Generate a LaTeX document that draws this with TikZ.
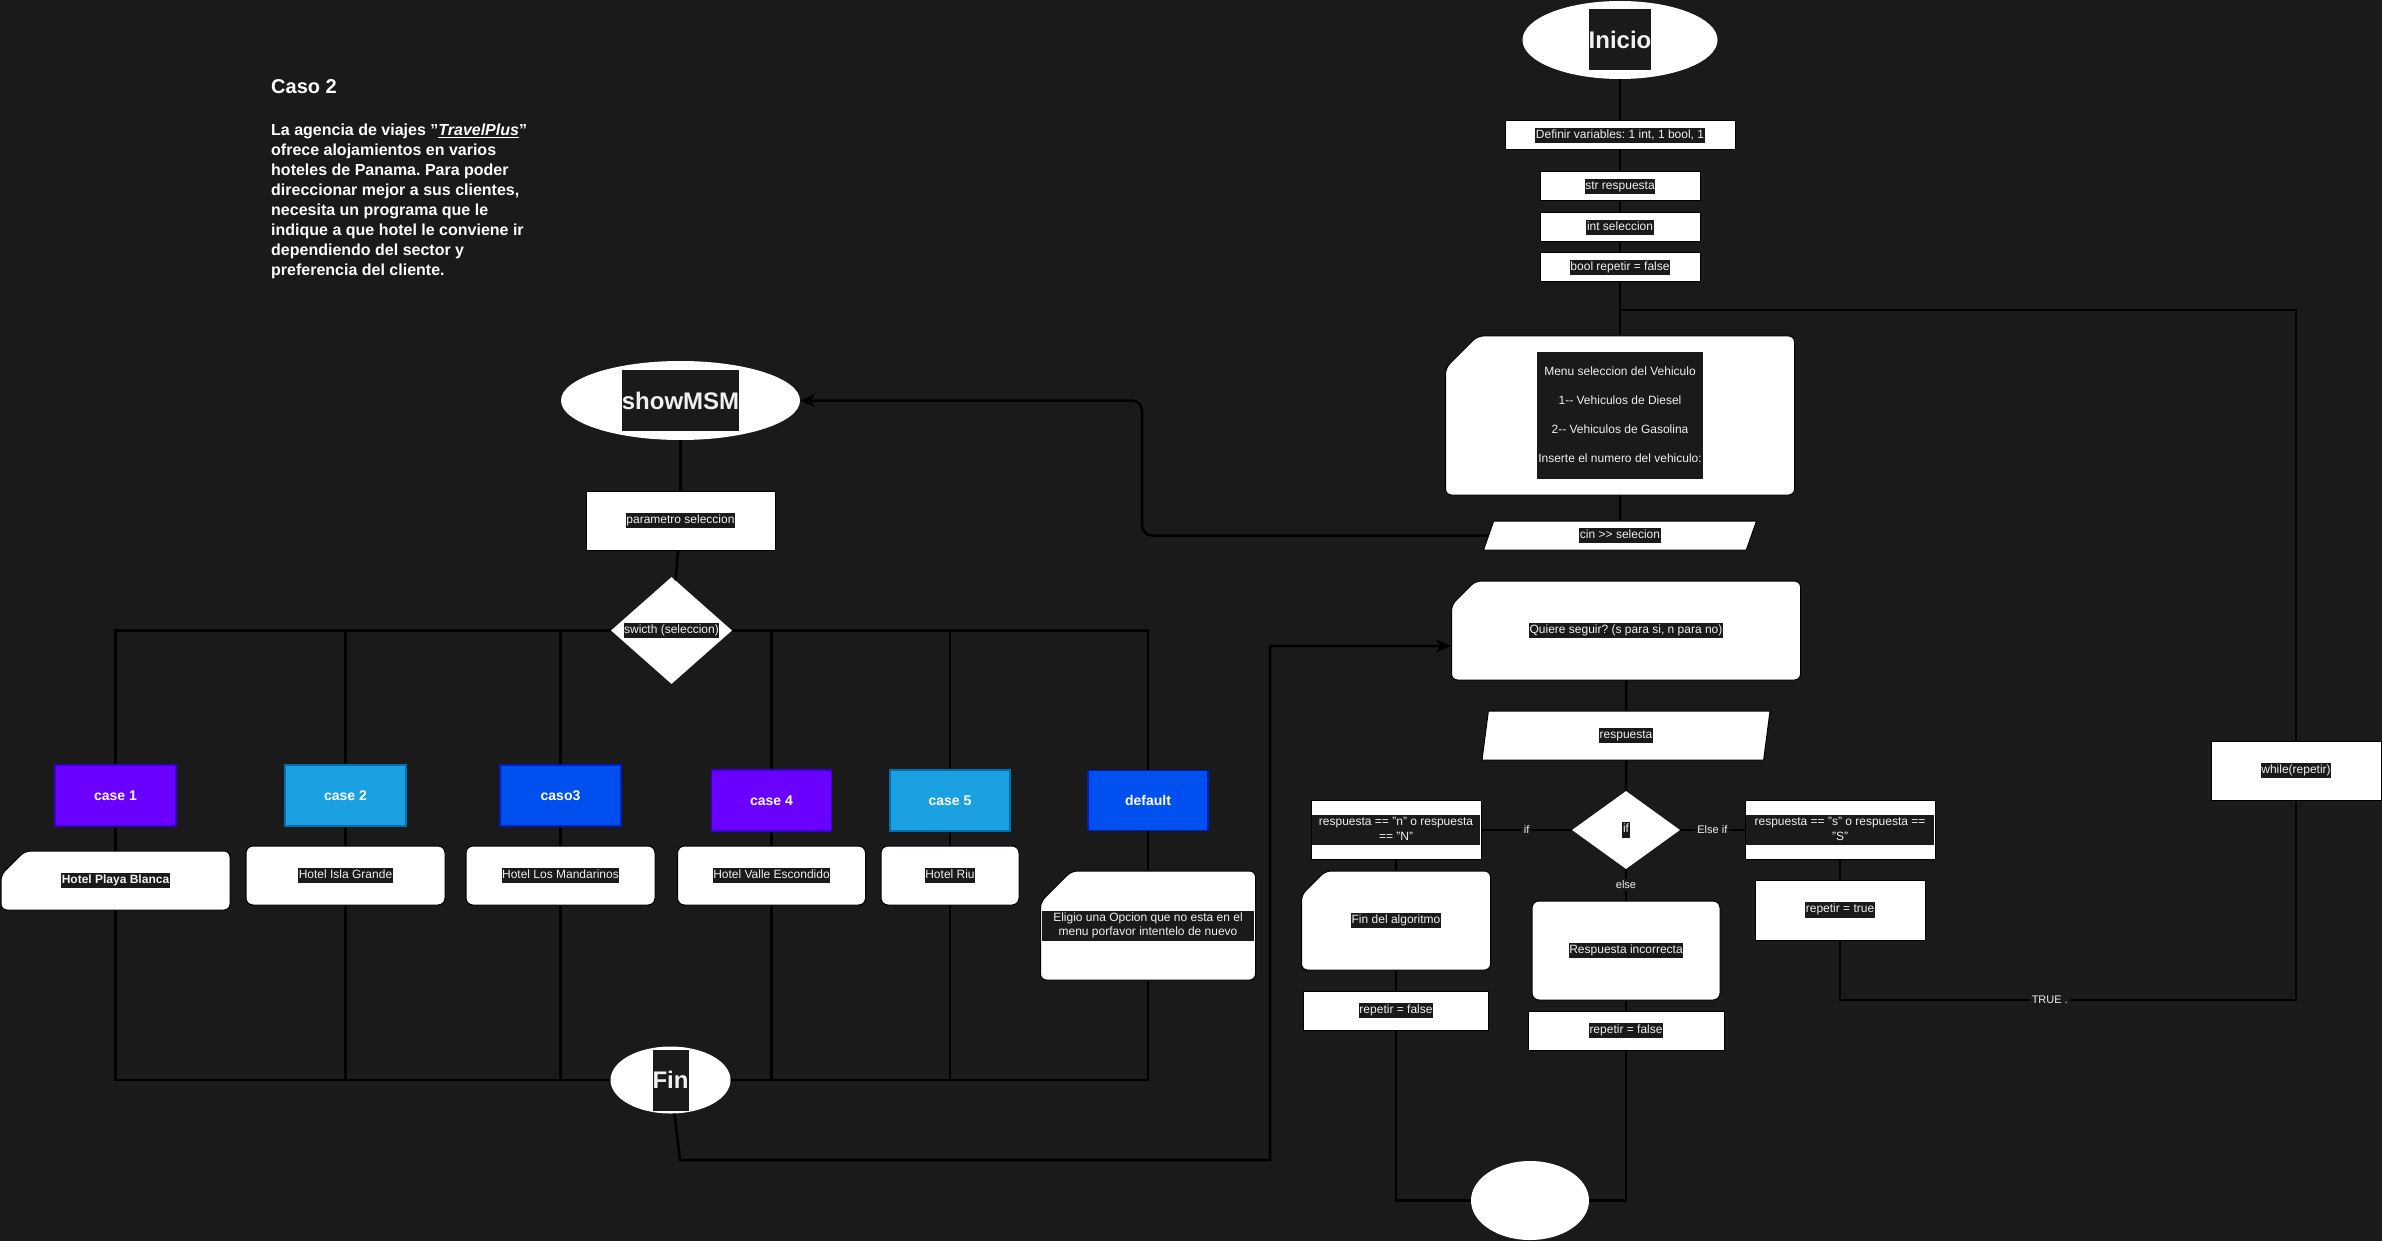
\documentclass[tikz,border=0pt]{standalone}
\usepackage{fontspec}
\setmainfont{Liberation Sans}
\usetikzlibrary{shapes.geometric,shapes.misc,arrows.meta,positioning}
\definecolor{bgc}{HTML}{1A1A1A}
\definecolor{txtc}{HTML}{F0F0F0}
\definecolor{purplefill}{HTML}{6A00FF}
\definecolor{purpleline}{HTML}{3700CC}
\definecolor{cyanfill}{HTML}{1BA1E2}
\definecolor{cyanline}{HTML}{006EAF}
\definecolor{bluefill}{HTML}{0050EF}
\definecolor{blueline}{HTML}{001DBC}
\newcommand{\hl}[1]{{\setlength{\fboxsep}{0.6pt}\colorbox{bgc}{\strut #1}}}
\newcommand{\hlpar}[2]{{\setlength{\fboxsep}{0.6pt}\colorbox{bgc}{\parbox{#1}{\centering\strut #2\strut}}}}
\newcommand{\bigtag}[1]{{\setlength{\fboxsep}{0pt}\colorbox{bgc}{\rule[-22pt]{0pt}{61pt}#1}}}
\newcommand{\dd}{-\kern0pt-}
\frenchspacing

\begin{document}
\begin{tikzpicture}[x=1pt,y=-1pt,
    every node/.style={font=\fontsize{12}{14.4}\selectfont,text=txtc},
    wh/.style 2 args={minimum width=#1pt,minimum height=#2pt},
    wire/.style={draw=black,line width=2.5pt},
    tip/.style={-{Stealth[length=15pt,width=13pt]}},
    proc/.style={rectangle,fill=white,draw=black,line width=1pt,inner sep=0pt},
    rbox/.style={rectangle,rounded corners=7pt,fill=white,draw=black,line width=1pt,inner sep=0pt},
    card/.style={chamfered rectangle,chamfered rectangle corners=north west,
      chamfered rectangle xsep=16pt,chamfered rectangle ysep=16pt,
      rounded corners=6pt,fill=white,draw=black,line width=1pt,inner sep=0pt},
    term/.style={ellipse,fill=white,inner sep=0pt,text height=17pt,text depth=0pt,
      font=\fontsize{24}{28}\selectfont\bfseries},
    io/.style 2 args={trapezium,trapezium left angle=#1,trapezium right angle=#2,
      trapezium stretches body,fill=white,draw=black,line width=1pt,inner sep=0pt},
    decision/.style={diamond,fill=white,inner sep=0pt},
    casebox/.style 2 args={rectangle,fill=#1,draw=#2,line width=1.5pt,inner sep=0pt,
      text=white,font=\fontsize{14}{17}\selectfont\bfseries},
    lbl/.style={fill=bgc,inner sep=2pt,font=\fontsize{11}{13}\selectfont}]

  \fill[bgc] (0,0) rectangle (2382,1241);
  \useasboundingbox (0,0) rectangle (2382,1241);

  \node[anchor=base west,inner sep=0pt,text=white,font=\fontsize{20}{24}\selectfont\bfseries]
    (title) at (271,94) {Caso 2};
  \node[anchor=north west,inner sep=0pt,align=left,text=white,font=\fontsize{16}{20}\selectfont\bfseries]
    (desc) at (271,123.5) {La agencia de viajes "\underline{\textit{TravelPlus}}"\\
    ofrece alojamientos en varios\\ hoteles de Panama. Para poder\\
    direccionar mejor a sus clientes,\\ necesita un programa que le\\
    indique a que hotel le conviene ir\\ dependiendo del sector y\\ preferencia del cliente.};

  \node[term,wh={195}{78}] (inicio) at (1620,40) {\bigtag{Inicio}};
  \node[proc,wh={230}{29}] (defvars) at (1620,135.5) {\hl{Definir variables: 1 int, 1 bool, 1}};
  \node[proc,wh={160}{29},below=21pt of defvars] (strresp) {\hl{str respuesta}};
  \node[proc,wh={160}{29},below=11pt of strresp] (intsel) {\hl{int seleccion}};
  \node[proc,wh={160}{29},below=10pt of intsel] (boolrep) {\hl{bool repetir = false}};
  \node[card,wh={349}{149}] (menu) at (1620,415.5)
    {{\setlength{\fboxsep}{0pt}\colorbox{bgc}{\parbox{166pt}{\centering\baselineskip=28.7pt
    \rule{0pt}{24pt}Menu seleccion del Vehiculo\\ 1\dd{} Vehiculos de Diesel\\
    2\dd{} Vehiculos de Gasolina\\ Inserte el numero del vehiculo:\rule[-17pt]{0pt}{0pt}}}}};
  \node[io={56.8}{123.2},wh={273}{29}] (cin) at (1620,535.5) {\hl{cin >\kern0pt> selecion}};
  \node[card,wh={349}{99}] (quiere) at (1626,630.5) {\hl{Quiere seguir? (s para si, n para no)}};
  \node[io={67.8}{112.2},wh={288}{49}] (resp) at (1626,735.5) {\hl{respuesta}};
  \node[decision,wh={108}{78}] (cond) at (1626,830) {\makebox[0pt]{\hl{if}}};
  \node[proc,wh={170}{59}] (ncond) at (1396,830)
    {\hlpar{166pt}{respuesta == "n" o respuesta\\ == "N"}};
  \node[proc,wh={190}{59}] (scond) at (1840,830)
    {\hlpar{186pt}{respuesta == "s" o respuesta ==\\ "S"}};
  \node[card,wh={189}{99}] (fda) at (1396,920.5) {\hl{Fin del algoritmo}};
  \node[proc,wh={185}{39}] (repf1) at (1396,1010.5) {\hl{repetir = false}};
  \node[rbox,wh={188}{99}] (respinc) at (1626,950.5) {\hl{Respuesta incorrecta}};
  \node[proc,wh={196}{39}] (repf2) at (1626,1030.5) {\hl{repetir = false}};
  \node[proc,wh={170}{60}] (reptrue) at (1840,910) {\hl{repetir = true}};
  \node[term,wh={118}{79}] (endell) at (1530,1200.5) {};
  \node[proc,wh={170}{59}] (while) at (2296,770.5) {\hl{while(repetir)}};

  \node[term,wh={239}{79}] (showmsm) at (680.5,400.5) {\bigtag{showMSM}};
  \node[proc,wh={189}{59}] (param) at (680.5,520.5) {\hl{parametro seleccion}};
  \node[decision,wh={121}{107}] (switch) at (671.5,630.5) {\makebox[0pt]{\hl{swicth (seleccion)}}};
  \node[casebox={purplefill}{purpleline},wh={121}{61}] (case1) at (115.5,795.5) {case 1};
  \node[casebox={cyanfill}{cyanline},wh={121}{61}] (case2) at (345.5,795.5) {case 2};
  \node[casebox={bluefill}{blueline},wh={121}{61}] (case3) at (560.5,795.5) {caso3};
  \node[casebox={purplefill}{purpleline},wh={120}{61}] (case4) at (771.5,800.5) {case 4};
  \node[casebox={cyanfill}{cyanline},wh={120}{61}] (case5) at (950,800.5) {case 5};
  \node[casebox={bluefill}{blueline},wh={120}{60}] (default) at (1148,800.5) {default};
  \node[card,wh={229}{59}] (hotel1) at (115.5,880.5)
    {\hl{\fontsize{12}{14.4}\selectfont\bfseries Hotel Playa Blanca}};
  \node[rbox,wh={199}{59}] (hotel2) at (345.5,875.5) {\hl{Hotel Isla Grande}};
  \node[rbox,wh={189}{59}] (hotel3) at (560.5,875.5) {\hl{Hotel Los Mandarinos}};
  \node[rbox,wh={188}{59}] (hotel4) at (771.5,875.5) {\hl{Hotel Valle Escondido}};
  \node[rbox,wh={138}{59}] (hotel5) at (950,875.5) {\hl{Hotel Riu}};
  \node[card,wh={214}{109}] (eligio) at (1148,925.5)
    {\makebox[185pt]{\hlpar{211pt}{Eligio una Opcion que no esta en el\\ menu porfavor intentelo de nuevo}}};
  \node[term,wh={120}{67}] (fin) at (670.5,1080) {\bigtag{Fin}};

  \coordinate (loopsplit) at (1620,310);
  \coordinate (loopbot) at (2296,1000);
  \coordinate (cinturn) at (1142,535.5);
  \coordinate (finlow) at (680,1160);
  \coordinate (backup) at (1270,646);

  \path[wire]
    (inicio) edge (defvars)
    (defvars) edge (strresp)
    (strresp) edge (intsel)
    (intsel) edge (boolrep)
    (boolrep) edge (menu)
    (menu) edge (cin)
    (quiere) edge (resp)
    (resp) edge (cond)
    (cond) edge node[lbl] {if} (ncond)
    (cond) edge node[lbl] {Else if} (scond)
    (cond) edge node[lbl] {else} (respinc)
    (ncond) edge (fda)
    (fda) edge (repf1)
    (scond) edge (reptrue)
    (respinc) edge (repf2)
    (showmsm) edge (param)
    (param) edge (switch)
    (case1) edge (hotel1)
    (case2) edge (hotel2)
    (case3) edge (hotel3)
    (case4) edge (hotel4)
    (case5) edge (hotel5)
    (default) edge (eligio);

  \draw[wire] (loopsplit) -| (while);
  \draw[wire] (reptrue) |- node[lbl,pos=0.73] {TRUE .} (loopbot) -- (while);
  \draw[wire] (repf1) |- (endell);
  \draw[wire] (repf2) |- (endell);
  \draw[wire,tip,rounded corners=10pt] (cin.west) -- (cinturn) |- (showmsm.east);

  \foreach \c in {case1,case2,case3} \draw[wire] (switch.west) -| (\c);
  \foreach \c in {case4,case5,default} \draw[wire] (switch.east) -| (\c);
  \foreach \h in {hotel1,hotel2,hotel3} \draw[wire] (\h) |- (fin.west);
  \foreach \h in {hotel4,hotel5,eligio} \draw[wire] (\h) |- (fin.east);
  \draw[wire,tip] (fin) -- (finlow) -| (backup) -- (backup -| quiere.west);
\end{tikzpicture}
\end{document}
